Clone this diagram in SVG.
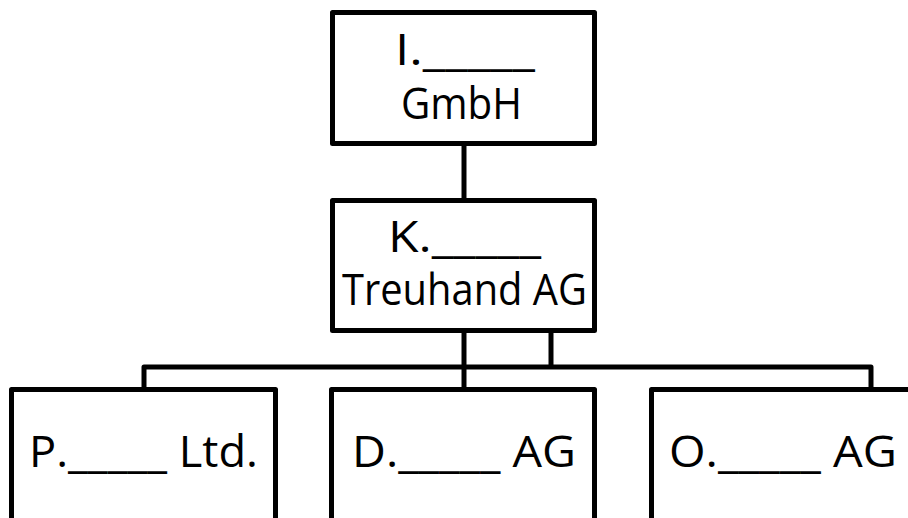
<svg xmlns="http://www.w3.org/2000/svg" width="908" height="518" viewBox="0 0 908 518">
  <style>
    .box { fill: #ffffff; stroke: #000000; stroke-width: 5; stroke-linejoin: round; }
    .wire { fill: none; stroke: #000000; stroke-width: 5; stroke-linejoin: round; }
    .lbl { font-family: "Open Sans", "Noto Sans", "Liberation Sans", sans-serif; font-size: 43px; fill: #000000; }
  </style>
  <rect width="908" height="518" fill="#ffffff"/>

  <g id="connectors">
    <line class="wire" x1="464" y1="143.5" x2="464" y2="200.5"/>
    <line class="wire" x1="464" y1="330.5" x2="464" y2="389.5"/>
    <line class="wire" x1="551" y1="330.5" x2="551" y2="367"/>
    <polyline class="wire" points="144,389.5 144,367 871,367 871,389.5"/>
  </g>

  <g id="node-gmbh">
    <rect class="box" x="332.5" y="12.5" width="262" height="131"/>
    <text class="lbl" x="395" y="65" textLength="140" lengthAdjust="spacingAndGlyphs">I._____</text>
    <text class="lbl" x="401" y="119" textLength="121" lengthAdjust="spacingAndGlyphs">GmbH</text>
  </g>

  <g id="node-treuhand">
    <rect class="box" x="332.5" y="200.5" width="262" height="130"/>
    <text class="lbl" x="388" y="252" textLength="153" lengthAdjust="spacingAndGlyphs">K._____</text>
    <text class="lbl" x="342" y="305" textLength="245" lengthAdjust="spacingAndGlyphs">Treuhand AG</text>
  </g>

  <g id="node-ltd">
    <rect class="box" x="11.5" y="389.5" width="264" height="200"/>
    <text class="lbl" x="29" y="467" textLength="229" lengthAdjust="spacingAndGlyphs">P._____ Ltd.</text>
  </g>

  <g id="node-d-ag">
    <rect class="box" x="331.5" y="389.5" width="263" height="200"/>
    <text class="lbl" x="352" y="467" textLength="224" lengthAdjust="spacingAndGlyphs">D._____ AG</text>
  </g>

  <g id="node-o-ag">
    <rect class="box" x="651.5" y="389.5" width="300" height="200"/>
    <text class="lbl" x="669" y="467" textLength="228" lengthAdjust="spacingAndGlyphs">O._____ AG</text>
  </g>
</svg>
